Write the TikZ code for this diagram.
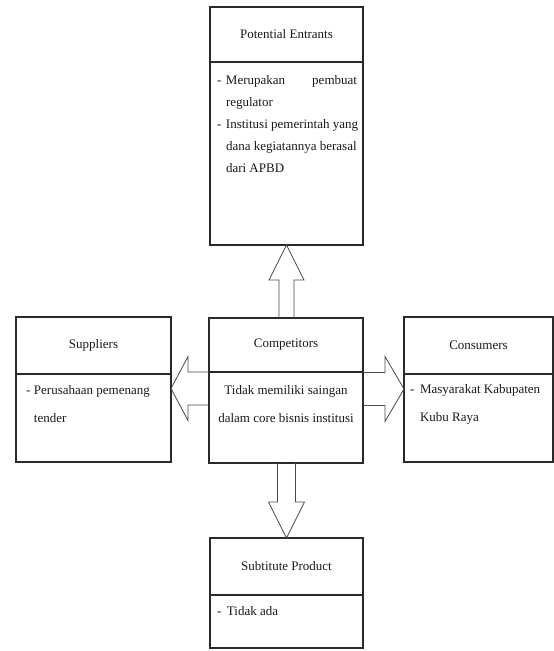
\documentclass[tikz,border=0pt]{standalone}
\usepackage{fontspec}
\setmainfont{Liberation Serif}
\usetikzlibrary{calc}
\definecolor{LINE}{HTML}{2A2A2A}
\definecolor{ARROW}{HTML}{4A4A4A}
\definecolor{TEXT}{HTML}{1A1A1A}

\tikzset{
    title/.style={draw=LINE, line width=1.4pt, inner sep=0pt, outer sep=0pt, anchor=north west, text=TEXT, font=\fontsize{13pt}{16pt}\selectfont},
    body/.style={draw=LINE, line width=1.4pt, inner sep=0pt, outer sep=0pt, anchor=north west, text=TEXT, font=\fontsize{13pt}{#1}\selectfont},
    blockarrow/.style={draw=ARROW, line width=0.8pt, line join=miter}
}

\begin{document}
\begin{tikzpicture}[x=1pt, y=1pt]
    \useasboundingbox[fill=white] (0,0) rectangle (554,-651);

    % Potential Entrants
    \node[title, minimum width=153pt, minimum height=55pt] (entt) at (210,-7) {Potential Entrants};
    \node[body=22pt] (entb) at (entt.south west) {\parbox[t][183pt][t]{153pt}{\rule{0pt}{22pt}\hspace*{7pt}\makebox[9pt][l]{-}Merupakan\hfill pembuat\hspace*{6pt}\\
        \hspace*{16pt}regulator\\
        \hspace*{7pt}\makebox[9pt][l]{-}Institusi pemerintah yang\\
        \hspace*{16pt}dana kegiatannya berasal\\
        \hspace*{16pt}dari APBD}};

    % Suppliers
    \node[title, minimum width=155pt, minimum height=57pt] (supt) at (16,-317) {Suppliers};
    \node[body=28pt] (supb) at (supt.south west) {\parbox[t][88pt][t]{155pt}{\rule{0pt}{20.5pt}\hspace*{10pt}\makebox[8pt][l]{-}Perusahaan pemenang\\
        \hspace*{18pt}tender}};

    % Competitors
    \node[title, minimum width=154pt, minimum height=54pt] (compt) at (209,-318) {Competitors};
    \node[body=28pt] (compb) at (compt.south west) {\parbox[t][91pt][t]{154pt}{\centering\rule{0pt}{22.5pt}Tidak memiliki saingan\\
        dalam core bisnis institusi}};

    % Consumers
    \node[title, minimum width=149pt, minimum height=57pt] (const) at (404,-317) {Consumers};
    \node[body=28pt] (consb) at (const.south west) {\parbox[t][88pt][t]{149pt}{\rule{0pt}{19.5pt}\hspace*{6pt}\makebox[10pt][l]{-}Masyarakat Kabupaten\\
        \hspace*{16pt}Kubu Raya}};

    % Subtitute Product
    \node[title, minimum width=153pt, minimum height=57pt] (subt) at (210,-538) {Subtitute Product};
    \node[body=22pt] (subb) at (subt.south west) {\parbox[t][53pt][t]{153pt}{\rule{0pt}{20.5pt}\hspace*{7pt}\makebox[10pt][l]{-}Tidak ada}};

    % block arrows
    \coordinate (upb) at (entb.south |- compt.north);
    \draw[blockarrow] ($(upb)+(-7.5,0)$) -- ($(entb.south)+(-7.5,-35)$) -- ($(entb.south)+(-17.5,-35)$)
        -- (entb.south) -- ($(entb.south)+(17.5,-35)$) -- ($(entb.south)+(7.5,-35)$) -- ($(upb)+(7.5,0)$);

    \coordinate (lft) at ($(compb.north west)+(0,-16.5)$);
    \coordinate (lftip) at (supb.east |- lft);
    \draw[blockarrow] ($(lft)+(0,16.5)$) -- ($(lftip)+(17,16.5)$) -- ($(lftip)+(17,32)$)
        -- (lftip) -- ($(lftip)+(17,-32)$) -- ($(lftip)+(17,-16.5)$) -- ($(lft)+(0,-16.5)$);

    \coordinate (rgt) at ($(compb.north east)+(0,-17)$);
    \coordinate (rgtip) at (consb.west |- rgt);
    \draw[blockarrow] ($(rgt)+(0,16.5)$) -- ($(rgtip)+(-19,16.5)$) -- ($(rgtip)+(-19,32.5)$)
        -- (rgtip) -- ($(rgtip)+(-19,-32.5)$) -- ($(rgtip)+(-19,-16.5)$) -- ($(rgt)+(0,-16.5)$);

    \coordinate (dnb) at (subt.north |- compb.south);
    \draw[blockarrow] ($(dnb)+(-9,0)$) -- ($(subt.north)+(-9,36)$) -- ($(subt.north)+(-18,36)$)
        -- (subt.north) -- ($(subt.north)+(18,36)$) -- ($(subt.north)+(9,36)$) -- ($(dnb)+(9,0)$);
\end{tikzpicture}
\end{document}
